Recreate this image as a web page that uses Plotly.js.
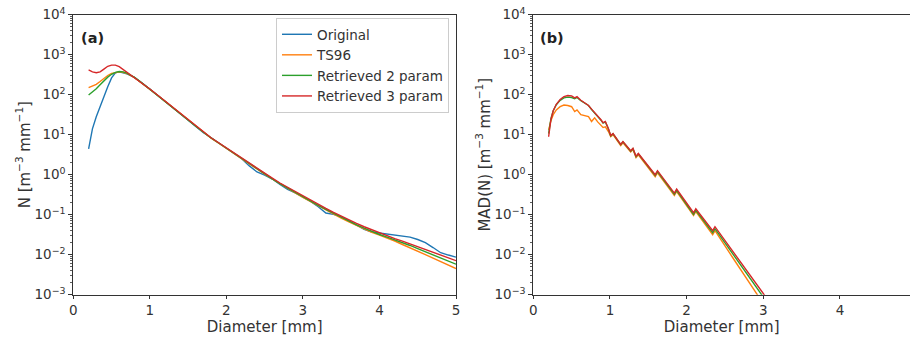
<!DOCTYPE html>
<html>
<head>
<meta charset="utf-8">
<script src="https://cdn.plot.ly/plotly-3.0.1.min.js"></script>
<style>html,body{margin:0;padding:0;background:#fff;}#chart{width:910px;height:340px;}</style>
</head>
<body>
<div id="chart"></div>
<script>
// Panel (a): drop size distribution N(D)
const diamA = [0.2,0.25,0.3,0.35,0.4,0.45,0.5,0.55,0.6,0.65,0.7,0.8,0.9,1.0,1.1,1.2,1.3,1.4,1.5,1.6,1.7,1.8,1.9,2.0,2.1,2.2,2.3,2.4,2.5,2.6,2.7,2.8,2.9,3.0,3.1,3.2,3.3,3.4,3.5,3.6,3.7,3.8,3.9,4.0,4.1,4.2,4.3,4.4,4.5,4.6,4.7,4.8,4.9,5.0];
const nOriginal = [4.4,14,28,52,89,158,263,350,372,355,331,272,197,139,97,68,48,34,23.8,16.0,11.2,8.4,6.2,4.5,3.4,2.5,1.66,1.17,0.98,0.78,0.575,0.43,0.35,0.28,0.215,0.158,0.110,0.102,0.088,0.071,0.055,0.043,0.037,0.035,0.033,0.0316,0.0295,0.0275,0.024,0.020,0.0151,0.0112,0.0098,0.0087];
const nTS96 = [150,162,182,214,257,302,339,363,372,363,339,266,193,137,97,68,48,34,23.2,16.1,11.4,8.2,6.1,4.5,3.35,2.48,1.84,1.37,1.03,0.78,0.59,0.46,0.35,0.272,0.212,0.167,0.132,0.104,0.082,0.066,0.054,0.044,0.036,0.031,0.0265,0.0220,0.0180,0.0150,0.0123,0.0100,0.0082,0.0068,0.0055,0.0045];
const nRet2 = [98,115,141,178,224,275,324,363,380,372,347,270,195,138,98,69,48,34,23.4,16.2,11.5,8.3,6.2,4.6,3.4,2.5,1.86,1.38,1.05,0.79,0.60,0.465,0.36,0.278,0.218,0.172,0.136,0.108,0.086,0.069,0.056,0.046,0.038,0.032,0.0275,0.0236,0.0200,0.0170,0.0141,0.0117,0.0098,0.0083,0.0069,0.0058];
const nRet3 = [415,372,355,372,437,513,550,550,501,427,363,275,197,139,98,69,48,34,23.6,16.4,11.7,8.4,6.3,4.7,3.5,2.55,1.9,1.42,1.08,0.82,0.62,0.485,0.375,0.29,0.228,0.181,0.144,0.115,0.092,0.075,0.061,0.050,0.042,0.035,0.0295,0.0251,0.0219,0.0186,0.0158,0.0135,0.0115,0.0098,0.0083,0.0071];

// Panel (b): MAD(N)
const diamB = [0.2,0.23,0.26,0.3,0.35,0.4,0.45,0.5,0.54,0.57,0.62,0.68,0.72,0.76,0.8,0.84,0.88,0.91,0.94,0.98,1.01,1.04,1.14,1.17,1.27,1.30,1.34,1.37,1.59,1.62,1.84,1.87,2.09,2.12,2.34,2.37,2.6,2.8,3.0,3.2];
const madTS96 = [13.2,22.4,31.6,41.7,50.1,55,53.7,50.1,38,41.7,31.6,29.5,28.2,21.4,26.3,20.9,17.4,15.1,15.8,12.0,8.91,10,5.37,6.31,3.72,4.27,2.69,3.16,0.891,1.12,0.302,0.380,0.0955,0.120,0.0316,0.0398,0.00851,0.00224,0.000603,0.000158];
const madRet2 = [10.7,25.1,39.8,56.2,72.4,83.2,87.1,85.1,79.4,85.1,70.8,60.3,53.7,42.7,35.5,29.5,23.4,19.5,20.9,13.8,9.33,10.5,5.62,6.61,3.89,4.47,2.82,3.31,0.955,1.20,0.324,0.407,0.102,0.129,0.0355,0.0447,0.0107,0.00295,0.000832,0.000251];
const madRet3 = [8.9,24,39.8,57.5,75.9,89.1,95.5,93.3,83.2,89.1,72.4,58.9,53.7,43.7,36.3,30.2,24,20,21.4,14.1,9.5,10.7,5.75,6.76,3.98,4.57,2.88,3.39,1.0,1.26,0.347,0.437,0.112,0.141,0.0398,0.0501,0.0126,0.00355,0.00112,0.000316];

// Tick labels
const yTickVals = [1e-3,1e-2,1e-1,1e0,1e1,1e2,1e3,1e4];
const yTickText = ['10<sup>−3</sup>','10<sup>−2</sup>','10<sup>−1</sup>','10<sup>0</sup>','10<sup>1</sup>','10<sup>2</sup>','10<sup>3</sup>','10<sup>4</sup>'];
const xTickVals = [0,1,2,3,4,5];
const xTickText = ['0','1','2','3','4','5'];

const seriesNames = ['Original','TS96','Retrieved 2 param','Retrieved 3 param'];
const colors = ['#1f77b4','#ff7f0e','#2ca02c','#d62728'];
const lw = 1.4;

const traces = [
  {x: diamA, y: nOriginal, name: seriesNames[0], line:{color:colors[0], width:lw}},
  {x: diamA, y: nTS96, name: seriesNames[1], line:{color:colors[1], width:lw}},
  {x: diamA, y: nRet2, name: seriesNames[2], line:{color:colors[2], width:lw}},
  {x: diamA, y: nRet3, name: seriesNames[3], line:{color:colors[3], width:lw}},
  {x: diamB, y: madTS96, name: seriesNames[1], showlegend:false, xaxis:'x2', yaxis:'y2', line:{color:colors[1], width:lw}},
  {x: diamB, y: madRet2, name: seriesNames[2], showlegend:false, xaxis:'x2', yaxis:'y2', line:{color:colors[2], width:lw}},
  {x: diamB, y: madRet3, name: seriesNames[3], showlegend:false, xaxis:'x2', yaxis:'y2', line:{color:colors[3], width:lw}}
].map(t => Object.assign({type:'scatter', mode:'lines', hoverinfo:'skip'}, t));

const W = 910, H = 340;
const axCol = '#333';
const tickFont = {family:'DejaVu Sans', size:13.5, color:'#333'};
const titleFont = {family:'DejaVu Sans', size:15, color:'#333'};

const xBase = {
  range:[0,5], tickmode:'array', tickvals:xTickVals, ticktext:xTickText,
  ticks:'outside', ticklen:3.5, tickwidth:1, tickcolor:axCol,
  showline:true, linecolor:axCol, linewidth:1, mirror:true, showgrid:false, zeroline:false,
  tickfont:tickFont, automargin:false
};
const yBase = {
  type:'log', range:[-3,4], tickmode:'array', tickvals:yTickVals, ticktext:yTickText,
  ticks:'outside', ticklen:4, tickwidth:1, tickcolor:axCol,
  minor:{dtick:'D1', ticks:'outside', ticklen:2, tickwidth:0.8, tickcolor:axCol, showgrid:false},
  showline:true, linecolor:axCol, linewidth:1, showgrid:false, zeroline:false,
  tickfont:tickFont, automargin:false
};

const layout = {
  width:W, height:H,
  margin:{l:0, r:0, t:0, b:0},
  paper_bgcolor:'#fff', plot_bgcolor:'#fff',
  showlegend:true,
  legend:{x:449/W, y:1-18/H, xanchor:'right', yanchor:'top', bgcolor:'#fff', bordercolor:'#ccc', borderwidth:1,
          font:{family:'DejaVu Sans', size:13.5, color:'#333'}, tracegroupgap:0, itemwidth:30},
  xaxis: Object.assign({}, xBase, {domain:[73.3/W, 456/W], anchor:'y',
          title:{text:'Diameter [mm]', font:titleFont, standoff:0}}),
  yaxis: Object.assign({}, yBase, {domain:[(H-294.7)/H, (H-14.7)/H], anchor:'x', mirror:true,
          title:{text:'N [m<sup>−3</sup> mm<sup>−1</sup>]', font:titleFont, standoff:0}}),
  xaxis2: Object.assign({}, xBase, {range:[0,(W-533.3)/76.66], domain:[533.3/W, 1], anchor:'y2',
          title:{text:'Diameter [mm]', font:titleFont, standoff:0}}),
  yaxis2: Object.assign({}, yBase, {domain:[(H-294.7)/H, (H-14.7)/H], anchor:'x2', mirror:false,
          title:{text:'MAD(N) [m<sup>−3</sup> mm<sup>−1</sup>]', font:titleFont, standoff:0}}),
  annotations:[
    {text:'<b>(a)</b>', xref:'x domain', yref:'y domain', x:0.015, y:0.915, xanchor:'left', yanchor:'middle', showarrow:false,
     font:{family:'DejaVu Sans', size:14.5, color:'#222'}},
    {text:'<b>(b)</b>', xref:'x2 domain', yref:'y2 domain', x:0.012, y:0.915, xanchor:'left', yanchor:'middle', showarrow:false,
     font:{family:'DejaVu Sans', size:14.5, color:'#222'}}
  ]
};

Plotly.newPlot('chart', traces, layout, {staticPlot:true, displayModeBar:false});
</script>
</body>
</html>
